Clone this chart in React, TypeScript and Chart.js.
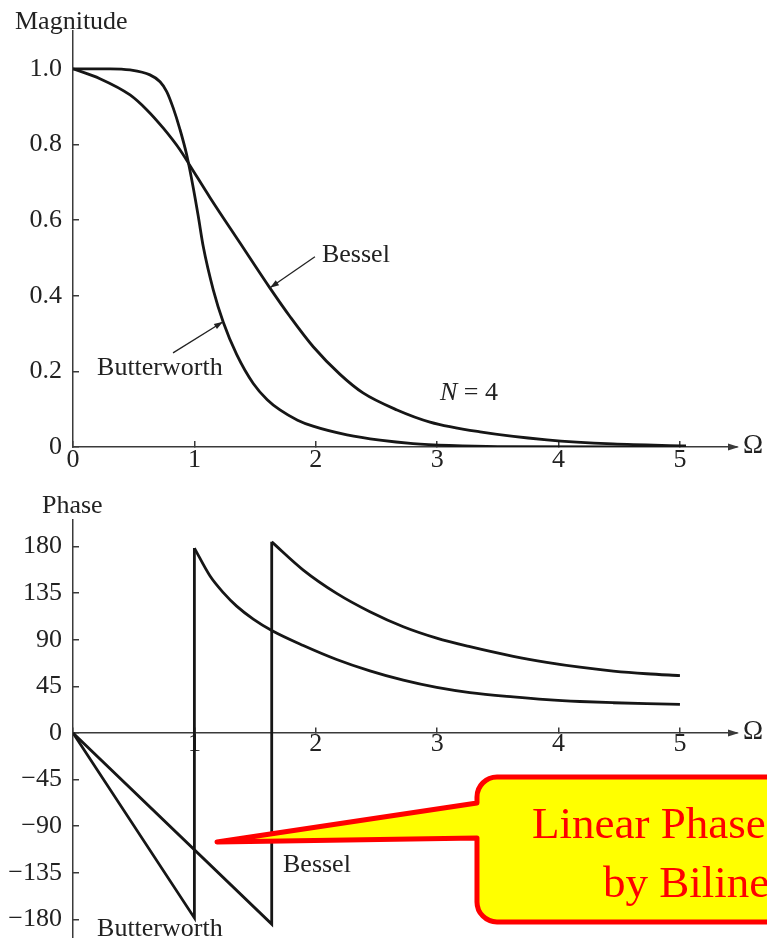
import React, { useEffect, useRef } from "react";
import { Chart, registerables } from "chart.js";

Chart.register(...registerables);

const FONT = "'Liberation Serif', 'Times New Roman', Times, serif";

// ---------- data ----------
// Magnitude (N = 4)
const butterMagOmega = [0, 0.305, 0.47, 0.634, 0.717, 0.772, 0.826, 0.881, 0.937, 0.991, 1.032, 1.073, 1.156, 1.238, 1.348, 1.485, 1.6, 1.705, 1.85, 1.977, 2.257, 2.529, 2.801, 3.1, 3.5, 5.05];
const butterMag = [1.0, 1.0, 0.997, 0.984, 0.966, 0.94, 0.896, 0.84, 0.772, 0.685, 0.61, 0.53, 0.415, 0.33, 0.245, 0.168, 0.125, 0.098, 0.071, 0.055, 0.032, 0.018, 0.009, 0.004, 0.001, 0.0];
const besselMagOmega = [0, 0.222, 0.47, 0.607, 0.744, 0.881, 0.964, 1.128, 1.375, 1.623, 1.787, 1.979, 2.2, 2.389, 2.669, 2.941, 3.353, 3.904, 4.448, 5.05];
const besselMag = [1.0, 0.974, 0.931, 0.892, 0.843, 0.786, 0.744, 0.66, 0.54, 0.42, 0.345, 0.265, 0.192, 0.143, 0.098, 0.066, 0.04, 0.019, 0.008, 0.003];

// Phase (degrees)
const butterPhaseLinOmega = [0, 1.0, 1.0];
const butterPhaseLin = [0, -178.5, 178.5];
const butterPhaseOmega = [1.0, 1.129, 1.238, 1.348, 1.485, 1.637, 1.897, 2.172, 2.446, 2.721, 2.996, 3.27, 3.627, 3.902, 4.176, 4.451, 4.726, 5.0];
const butterPhase = [178.5, 151.5, 135.5, 122.5, 110.0, 99.0, 84.5, 71.0, 60.0, 51.0, 44.0, 39.0, 34.8, 32.2, 30.4, 29.2, 28.3, 27.7];
const besselPhaseLinOmega = [0, 1.637, 1.637];
const besselPhaseLin = [0, -184.5, 184.5];
const besselPhaseOmega = [1.637, 1.897, 2.172, 2.446, 2.721, 2.996, 3.27, 3.627, 3.902, 4.176, 4.451, 4.726, 5.0];
const besselPhase = [184.5, 157.3, 134.8, 117.1, 102.6, 91.6, 83.3, 74.0, 68.2, 63.5, 59.8, 57.2, 55.4];

// tick values
const omegaTicks = [0, 1, 2, 3, 4, 5];
const magTicks = [0, 0.2, 0.4, 0.6, 0.8, 1.0];
const phaseTicks = [-180, -135, -90, -45, 0, 45, 90, 135, 180];

// texts
const magTitle = "Magnitude";
const phaseTitle = "Phase";
const omegaSymbol = "Ω";
const seriesNames = ["Butterworth", "Bessel"];
const orderLabel = ["N", " = 4"];
const calloutLines = ["Linear Phase", "by Bilinear"];

// ---------- helpers ----------
const zip = (xs: number[], ys: number[]) => xs.map((x, i) => ({ x, y: ys[i] }));
const CURVE = "#161616";
const AXIS = "#3a3a3a";
const TEXT = "#222";

function arrowHead(ctx: CanvasRenderingContext2D, x1: number, y1: number, x2: number, y2: number, len: number, half: number) {
  const a = Math.atan2(y2 - y1, x2 - x1);
  const c = Math.cos(a), s = Math.sin(a);
  ctx.beginPath();
  ctx.moveTo(x2, y2);
  ctx.lineTo(x2 - len * c + half * s, y2 - len * s - half * c);
  ctx.lineTo(x2 - len * c - half * s, y2 - len * s + half * c);
  ctx.closePath();
  ctx.fill();
}

function line(ds: { x: number; y: number }[], smooth: boolean) {
  return {
    data: ds,
    showLine: true,
    borderColor: CURVE,
    borderWidth: 2.8,
    pointRadius: 0,
    fill: false,
    tension: 0,
    cubicInterpolationMode: smooth ? ("monotone" as const) : ("default" as const),
    borderJoinStyle: "miter" as const,
  };
}

function axisCfg(extra: any, values: number[]) {
  return {
    type: "linear",
    grid: { display: true, drawOnChartArea: false, drawTicks: true, tickLength: -6, color: AXIS, lineWidth: 1.5 },
    border: { display: true, color: AXIS, width: 1.5 },
    afterBuildTicks: (s: any) => { s.ticks = values.map((v) => ({ value: v })); },
    ...extra,
    ticks: {
      color: TEXT,
      font: { family: FONT, size: 26 },
      maxRotation: 0,
      autoSkip: false,
      ...(extra.ticks || {}),
    },
  };
}

const fitY = (s: any) => { s.width = 73; s.paddingTop = 0; s.paddingBottom = 0; };

function drawAxisArrow(chart: any) {
  const { ctx, chartArea, scales } = chart;
  const y0 = scales.y.getPixelForValue(0);
  ctx.save();
  ctx.fillStyle = AXIS;
  arrowHead(ctx, chartArea.right - 20, y0, chartArea.right + 2, y0, 11, 3.5);
  ctx.fillStyle = TEXT;
  ctx.font = `27px ${FONT}`;
  ctx.textAlign = "left";
  ctx.textBaseline = "alphabetic";
  ctx.fillText(omegaSymbol, chartArea.right + 6, y0 + 6);
  ctx.restore();
}

const magPlugin = {
  id: "magAnnotations",
  afterDraw(chart: any) {
    const { ctx, chartArea, scales } = chart;
    const X = (v: number) => scales.x.getPixelForValue(v);
    const Y = (v: number) => scales.y.getPixelForValue(v);
    drawAxisArrow(chart);
    ctx.save();
    ctx.fillStyle = TEXT;
    ctx.font = `26px ${FONT}`;
    ctx.textAlign = "left";
    ctx.textBaseline = "alphabetic";
    ctx.fillText(magTitle, chartArea.left - 58, chartArea.top - 2);
    ctx.fillText(seriesNames[1], X(2.051), Y(0.489));
    ctx.fillText(seriesNames[0], X(0.198), Y(0.19));
    ctx.font = `italic 26px ${FONT}`;
    const nx = X(3.023), ny = Y(0.124);
    ctx.fillText(orderLabel[0], nx, ny);
    const w = ctx.measureText(orderLabel[0]).width;
    ctx.font = `26px ${FONT}`;
    ctx.fillText(orderLabel[1], nx + w, ny);
    ctx.strokeStyle = TEXT;
    ctx.fillStyle = TEXT;
    ctx.lineWidth = 1.3;
    const arrows = [
      [1.993, 0.503, 1.623, 0.421],
      [0.824, 0.249, 1.236, 0.331],
    ];
    for (const [a, b, c, d] of arrows) {
      const x1 = X(a), y1 = Y(b), x2 = X(c), y2 = Y(d);
      ctx.beginPath();
      ctx.moveTo(x1, y1);
      ctx.lineTo(x2, y2);
      ctx.stroke();
      arrowHead(ctx, x1, y1, x2, y2, 9, 3);
    }
    ctx.restore();
  },
};

const phasePlugin = {
  id: "phaseAnnotations",
  afterDraw(chart: any) {
    const { ctx, chartArea, scales } = chart;
    const X = (v: number) => scales.x.getPixelForValue(v);
    const Y = (v: number) => scales.y.getPixelForValue(v);
    drawAxisArrow(chart);
    ctx.save();
    ctx.fillStyle = TEXT;
    ctx.font = `26px ${FONT}`;
    ctx.textAlign = "left";
    ctx.textBaseline = "alphabetic";
    ctx.fillText(phaseTitle, chartArea.left - 31, chartArea.top - 7);
    ctx.fillText(seriesNames[1], X(1.73), Y(-134.2));
    ctx.fillText(seriesNames[0], X(0.198), Y(-195.9));

    // callout
    const L = X(3.328), T = Y(-42.5), B = Y(-182.4), R = chart.width + 40;
    const wT = Y(-67.6), wB = Y(-101.4);
    const tx = X(1.186), ty = Y(-105.2);
    const r = 20;
    ctx.beginPath();
    ctx.moveTo(L + r, T);
    ctx.lineTo(R, T);
    ctx.lineTo(R, B);
    ctx.lineTo(L + r, B);
    ctx.arcTo(L, B, L, B - r, r);
    ctx.lineTo(L, wB);
    ctx.lineTo(tx, ty);
    ctx.lineTo(L, wT);
    ctx.lineTo(L, T + r);
    ctx.arcTo(L, T, L + r, T, r);
    ctx.closePath();
    ctx.fillStyle = "#ffff00";
    ctx.fill();
    ctx.strokeStyle = "#ff0000";
    ctx.lineWidth = 5;
    ctx.lineJoin = "round";
    ctx.stroke();
    ctx.fillStyle = "#ff0000";
    ctx.font = `45px ${FONT}`;
    ctx.fillText(calloutLines[0], X(3.781), Y(-101.4));
    ctx.fillText(calloutLines[1], X(4.366), Y(-158.3));
    ctx.restore();
  },
};

function MagnitudeChart() {
  const ref = useRef<HTMLCanvasElement>(null);
  useEffect(() => {
    const chart = new Chart(ref.current as HTMLCanvasElement, {
      type: "scatter",
      data: {
        datasets: [
          line(zip(butterMagOmega, butterMag), true),
          line(zip(besselMagOmega, besselMag), true),
        ] as any,
      },
      options: {
        animation: false,
        responsive: false,
        devicePixelRatio: 1,
        events: [],
        layout: { padding: { left: 0, top: 31, right: 30, bottom: 0 } },
        plugins: { legend: { display: false }, tooltip: { enabled: false }, title: { display: false } },
        scales: {
          x: axisCfg({
            min: 0,
            max: 5.47,
            position: "bottom",
            afterFit: (s: any) => { s.height = 33; s.paddingLeft = 0; s.paddingRight = 0; },
            ticks: { padding: 4, callback: (v: any) => String(v) },
          }, omegaTicks),
          y: axisCfg({
            min: 0,
            max: 1.1,
            position: "left",
            afterFit: fitY,
            ticks: { padding: 17, callback: (v: any) => (Number(v) === 0 ? "0" : Number(v).toFixed(1)) },
          }, magTicks),
        },
      } as any,
      plugins: [magPlugin],
    });
    return () => chart.destroy();
  }, []);
  return <canvas ref={ref} width={767} height={480} style={{ position: "absolute", left: 0, top: 0, width: 767, height: 480, display: "block" }} />;
}

function PhaseChart() {
  const ref = useRef<HTMLCanvasElement>(null);
  useEffect(() => {
    const chart = new Chart(ref.current as HTMLCanvasElement, {
      type: "scatter",
      data: {
        datasets: [
          line(zip(butterPhaseLinOmega, butterPhaseLin), false),
          line(zip(butterPhaseOmega, butterPhase), true),
          line(zip(besselPhaseLinOmega, besselPhaseLin), false),
          line(zip(besselPhaseOmega, besselPhase), true),
        ] as any,
      },
      options: {
        animation: false,
        responsive: false,
        devicePixelRatio: 1,
        events: [],
        layout: { padding: { left: 0, top: 40, right: 30, bottom: 0 } },
        plugins: { legend: { display: false }, tooltip: { enabled: false }, title: { display: false } },
        scales: {
          x: axisCfg({
            min: 0,
            max: 5.47,
            position: { y: 0 },
            afterFit: (s: any) => { s.height = 0; s.paddingLeft = 0; s.paddingRight = 0; },
            ticks: { padding: 2, callback: (v: any) => (Number(v) === 0 ? "" : String(v)) },
          }, omegaTicks),
          y: axisCfg({
            min: -197.9,
            max: 205.6,
            position: "left",
            afterFit: fitY,
            ticks: { padding: 17, callback: (v: any) => (Number(v) < 0 ? "\u2212" + Math.abs(Number(v)) : String(v)) },
          }, phaseTicks),
        },
      } as any,
      plugins: [phasePlugin],
    });
    return () => chart.destroy();
  }, []);
  return <canvas ref={ref} width={767} height={458} style={{ position: "absolute", left: 0, top: 480, width: 767, height: 458, display: "block" }} />;
}

export default function App() {
  return (
    <div style={{ position: "absolute", left: 0, top: 0, width: 767, height: 938, overflow: "hidden", background: "#fff" }}>
      <MagnitudeChart />
      <PhaseChart />
    </div>
  );
}
